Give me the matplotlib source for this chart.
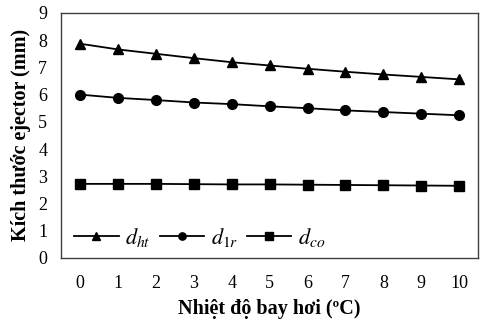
import matplotlib
matplotlib.use("Agg")
import matplotlib.pyplot as plt

# Nhiệt độ bay hơi (°C)
evap_temp = [0, 1, 2, 3, 4, 5, 6, 7, 8, 9, 10]

# kích thước ejector (mm)
d_ht = [7.87, 7.66, 7.50, 7.34, 7.19, 7.07, 6.95, 6.84, 6.74, 6.65, 6.56]
d_1r = [6.00, 5.88, 5.80, 5.71, 5.65, 5.57, 5.50, 5.42, 5.36, 5.30, 5.24]
d_co = [2.72, 2.72, 2.72, 2.71, 2.70, 2.70, 2.69, 2.68, 2.67, 2.66, 2.65]

y_ticks = list(range(0, 10))

plt.rcParams["font.family"] = ["Liberation Serif", "DejaVu Serif"]
plt.rcParams["mathtext.fontset"] = "stix"

fig = plt.figure(figsize=(4.81, 3.24), dpi=100)
ax = fig.add_axes([0.127, 0.204, 0.867, 0.756])

ax.plot(evap_temp, d_ht, color="black", lw=1.3, marker="^", ms=7, label=r"$d_{ht}$")
ax.plot(evap_temp, d_1r, color="black", lw=1.3, marker="o", ms=7, label=r"$d_{1r}$")
ax.plot(evap_temp, d_co, color="black", lw=1.3, marker="s", ms=7, label=r"$d_{co}$")

ax.set_xlim(-0.5, 10.5)
ax.set_ylim(0, 9)
ax.set_xticks(evap_temp)
ax.set_yticks(y_ticks)
ax.tick_params(axis="both", length=0, labelsize=13)
ax.tick_params(axis="x", pad=12)
ax.tick_params(axis="y", pad=10)

for s in ax.spines.values():
    s.set_color("#404040")
    s.set_linewidth(1.0)

ax.set_ylabel("Kích thước ejector (mm)", fontsize=14.5, fontweight="bold", labelpad=5)
ax.set_xlabel("Nhiệt độ bay hơi (ºC)", fontsize=14.5, fontweight="bold", labelpad=5)

ax.legend(loc="lower left", ncol=3, frameon=False, fontsize=16, markerscale=0.75,
          handlelength=2.0, handletextpad=0.3, columnspacing=0.4,
          borderaxespad=0.0, bbox_to_anchor=(0.01, 0.0))

fig.savefig("out.png", dpi=100)
